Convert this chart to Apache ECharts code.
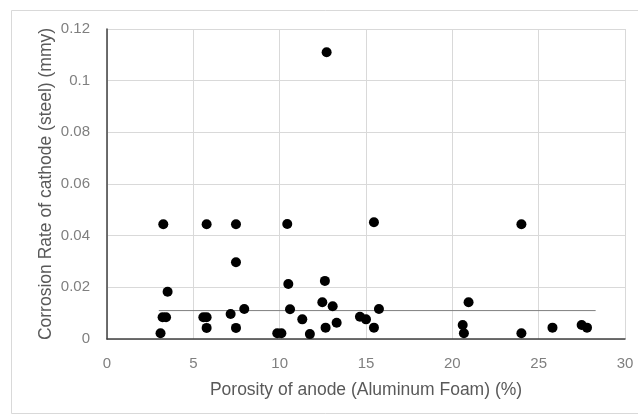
<!DOCTYPE html>
<html>
<head>
<meta charset="utf-8">
<script src="https://cdn.jsdelivr.net/npm/echarts@6/dist/echarts.min.js"></script>
<style>html,body{margin:0;padding:0;background:#fff;}#c{width:638px;height:415px;}</style>
</head>
<body>
<div id="c"></div>
<script>
var porosity = [3.26,5.77,7.47,7.47,3.51,3.22,3.42,5.58,5.77,7.16,7.95,5.77,7.47,3.10,
  10.44,15.46,10.50,12.62,12.47,13.07,10.60,11.31,14.65,15.00,15.75,12.66,13.30,15.46,9.86,10.10,11.75,12.72,
  24.00,20.94,20.60,20.67,24.00,25.80,27.49,27.80];
var corrosion = [0.0444,0.0444,0.0444,0.0297,0.0183,0.0084,0.0084,0.0084,0.0084,0.0097,0.0116,0.0043,0.0043,0.0022,
  0.0445,0.0452,0.0213,0.0225,0.0142,0.0127,0.0115,0.0076,0.0086,0.0076,0.0116,0.0044,0.0063,0.0044,0.0022,0.0022,0.0019,0.111,
  0.0444,0.0142,0.0054,0.0022,0.0022,0.0044,0.0054,0.0044];
var trendX = [3.0, 28.3];
var trendY = [0.011, 0.011];
var xTicks = [0,5,10,15,20,25,30];
var yTicks = [0,0.02,0.04,0.06,0.08,0.1,0.12];
var xTitle = 'Porosity of anode (Aluminum Foam) (%)';
var yTitle = 'Corrosion Rate of cathode (steel) (mmy)';

var pts = porosity.map(function(x,i){return [x, corrosion[i]];});
var trend = trendX.map(function(x,i){return [x, trendY[i]];});
var font = 'Liberation Sans, sans-serif';

var chart = echarts.init(document.getElementById('c'), null, {renderer:'canvas'});
chart.setOption({
  animation:false,
  backgroundColor:'#fff',
  graphic:[{type:'rect', shape:{x:11.5,y:10.5,width:640,height:403}, style:{fill:'none',stroke:'#d9d9d9',lineWidth:1}, silent:true}],
  grid:{left:107, right:13, top:29, bottom:76, containLabel:false},
  xAxis:{type:'value', min:xTicks[0], max:xTicks[xTicks.length-1], interval:5,
    axisLine:{show:true, onZero:false, lineStyle:{color:'#404040', width:1.5}},
    axisTick:{show:false},
    axisLabel:{color:'#7f7f7f', fontSize:15, fontFamily:font, margin:17},
    splitLine:{show:true, lineStyle:{color:'#d9d9d9', width:1}},
    name:xTitle, nameLocation:'middle', nameGap:42,
    nameTextStyle:{color:'#595959', fontSize:17.5, fontFamily:font}},
  yAxis:{type:'value', min:yTicks[0], max:yTicks[yTicks.length-1], interval:0.02,
    axisLine:{show:true, onZero:false, lineStyle:{color:'#404040', width:1.5}},
    axisTick:{show:false},
    axisLabel:{color:'#7f7f7f', fontSize:15, fontFamily:font, margin:17,
      formatter:function(v){return String(Math.round(v*100)/100);}},
    splitLine:{show:true, lineStyle:{color:'#d9d9d9', width:1}},
    name:yTitle, nameLocation:'middle', nameGap:52, nameMoveOverlap:false,
    nameTextStyle:{color:'#595959', fontSize:17.5, fontFamily:font}},
  series:[
    {type:'line', data:trend, symbol:'none', lineStyle:{color:'#7f7f7f', width:1}, silent:true, z:1},
    {type:'scatter', data:pts, symbol:'circle', symbolSize:10, itemStyle:{color:'#000', opacity:1}, z:3}
  ]
});
</script>
</body>
</html>
